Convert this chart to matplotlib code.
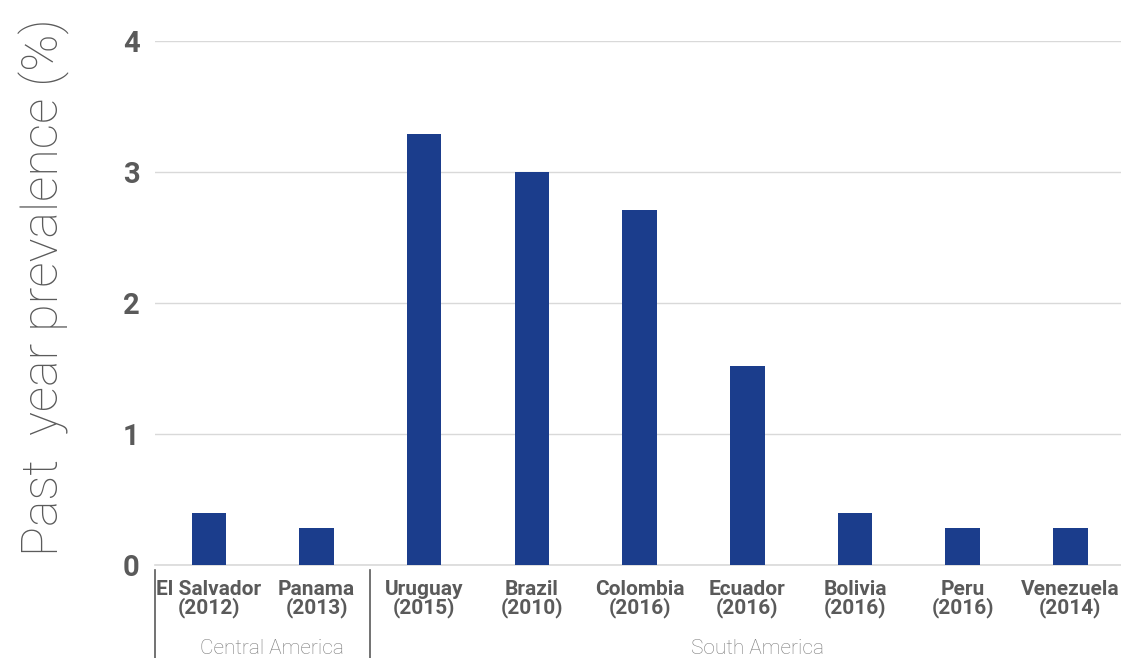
import matplotlib
matplotlib.use("Agg")
import matplotlib.pyplot as plt
from matplotlib.transforms import offset_copy

countries = ["El Salvador\n(2012)", "Panama\n(2013)", "Uruguay\n(2015)", "Brazil\n(2010)",
             "Colombia\n(2016)", "Ecuador\n(2016)", "Bolivia\n(2016)", "Peru\n(2016)",
             "Venezuela\n(2014)"]
values = [0.40, 0.28, 3.29, 3.00, 2.71, 1.52, 0.40, 0.28, 0.28]
groups = ["Central America", "South America"]
group_sizes = [2, 7]
yticks = [0, 1, 2, 3, 4]

plt.rcParams['font.family'] = ['Roboto', 'DejaVu Sans']
W, H = 1121, 658
fig = plt.figure(figsize=(W / 100, H / 100), dpi=100)
ax = fig.add_axes([155 / W, 93 / H, 966 / W, 524 / H])

x = list(range(len(values)))
ax.bar(x, values, width=0.32, color="#1b3d8c", zorder=3)
ax.set_xlim(-0.5, len(values) - 0.5 - 0.03)
ax.set_ylim(0, 4)
ax.set_yticks(yticks)
ax.set_yticklabels([str(t) for t in yticks], fontsize=21, fontweight="bold", color="#5a5a5a")
ax.set_xticks(x)
ax.set_xticklabels(countries, fontsize=15, fontweight="bold", color="#5a5a5a", linespacing=0.95)
ax.tick_params(axis="both", length=0)
ax.tick_params(axis="x", pad=10.5)
ax.tick_params(axis="y", pad=11)
ax.grid(axis="y", color="#d9d9d9", linewidth=1, zorder=0)
for s in ["top", "right", "left"]:
    ax.spines[s].set_visible(False)
ax.spines["bottom"].set_color("#d9d9d9")
ax.spines["bottom"].set_linewidth(1.2)

fig.text(58 / W, 1 - 287 / H, "Past  year prevalence (%)", rotation=90, rotation_mode="anchor",
         ha="center", va="baseline", fontsize=36, fontweight="light", color="#5a5a5a")

# group separators and labels
trans = ax.get_xaxis_transform()
bounds = [-0.5]
for n in group_sizes:
    bounds.append(bounds[-1] + n)
for b in bounds[:-1]:
    ax.plot([b, b], [-0.01, -0.18], transform=trans, color="#5a5a5a", linewidth=1.2, clip_on=False)
label_trans = offset_copy(trans, fig=fig, x=7, y=0, units="points")
for g, a, b in zip(groups, bounds[:-1], bounds[1:]):
    ax.text((a + b) / 2, -0.16, g, transform=label_trans, ha="center", va="center",
            fontsize=15, fontweight="light", color="#7a7a7a")

fig.savefig("out.png", dpi=100)
